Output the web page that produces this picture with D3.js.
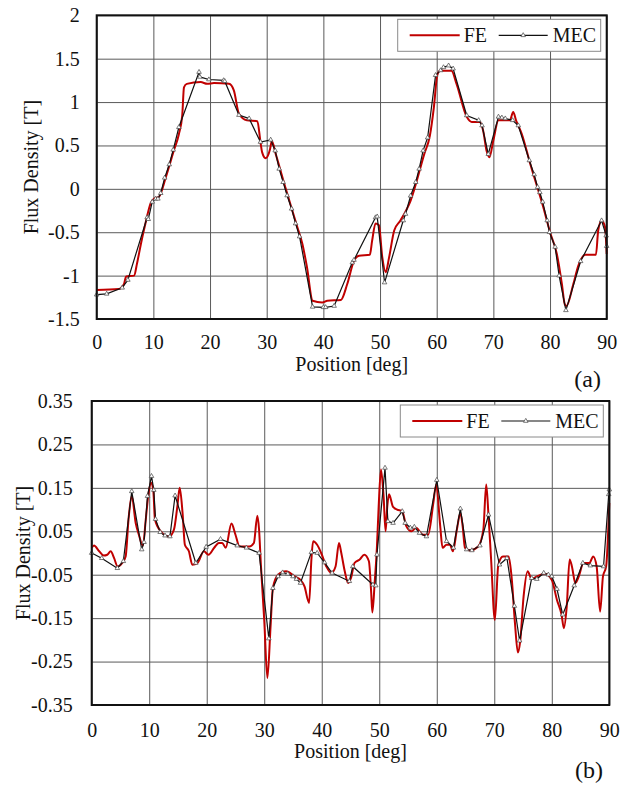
<!DOCTYPE html>
<html>
<head>
<meta charset="utf-8">
<script src="https://cdn.jsdelivr.net/npm/d3@7"></script>
<style>
  body { margin: 0; background: #fff; }
  svg { display: block; }
  svg text { font-family: "Times New Roman", Times, "Liberation Serif", "DejaVu Serif", serif; }
</style>
</head>
<body>
<svg id="chart"></svg>
<script>
var width = 630;
var height = 787;
var serif = "'Times New Roman', Times, 'Liberation Serif', 'DejaVu Serif', serif";

// (a) flux density over one pole pitch
var fePosA = [0, 3.9, 4.8, 5.2, 6.6, 7.1, 7.8, 8.6, 9.5, 10.1, 11, 12.2, 13.6, 14.5, 15.1, 15.4, 15.9, 18.35, 19.5, 20.7,
  23.35, 24.2, 25.1, 26.5, 28.35, 28.9, 29.2, 29.8, 30.6, 30.9, 31.6, 33.1, 35.4, 36.3, 37.1, 38.1, 39.8, 40.7, 43.1, 44.2,
  45.4, 46.3, 48.2, 48.6, 49.2, 49.8, 50.4, 51.0, 51.6, 52.5, 53.6, 55.4, 57.8, 58.8, 59.5, 60.1, 60.6, 62.6, 63.5, 65.3,
  66.2, 67.6, 68.2, 68.8, 69.3, 70, 70.9, 72.9, 73.5, 74, 75, 76.5, 78.8, 80, 81.2, 82.1, 82.6, 82.9, 84.1, 85,
  86.2, 88.1, 88.5, 89.1, 89.7, 90];
var feValA = [-1.165, -1.155, -1.10, -1.01, -1.0, -0.865, -0.635, -0.40, -0.17, -0.115, -0.09, 0.135, 0.44, 0.63, 0.85, 1.17, 1.21, 1.23, 1.21, 1.22,
  1.21, 1.135, 0.865, 0.79, 0.78, 0.54, 0.42, 0.354, 0.46, 0.55, 0.40, 0.058, -0.44, -0.635, -0.90, -1.29, -1.31, -1.29, -1.28, -1.10,
  -0.83, -0.77, -0.76, -0.60, -0.40, -0.42, -0.79, -0.96, -0.79, -0.48, -0.365, -0.135, 0.40, 0.615, 0.94, 1.31, 1.36, 1.36, 1.21, 0.83,
  0.77, 0.77, 0.67, 0.44, 0.365, 0.56, 0.79, 0.79, 0.885, 0.79, 0.635, 0.29, -0.21, -0.5, -0.75, -1.10, -1.33, -1.35, -1.10, -0.885,
  -0.76, -0.76, -0.48, -0.365, -0.44, -0.75];

var mecPosA = [0, 1.76, 4.5, 5.5, 8.9, 9.1, 9.8, 10.4, 10.8, 11.3, 12.0, 12.8, 13.5, 14.5, 18.06, 18.2, 19.8, 22.4, 22.6, 25.1,
  26.9, 28.9, 30.7, 31.5, 32.2, 32.9, 33.6, 34.4, 35.1, 35.8, 38.1, 40, 40.4, 41.9, 45.1, 45.4, 49.2, 49.5, 50.8, 54.1,
  54.5, 55.4, 56.3, 56.9, 57.6, 58.4, 59.8, 60.7, 61.2, 62.1, 62.9, 65.3, 67.4, 68.0, 69.1, 70.9, 71.5, 72.1, 73.4, 74.4,
  76.35, 77.2, 77.8, 78.2, 78.7, 79.5, 79.9, 80.9, 81.6, 82.8, 85.4, 89.1, 89.9, 90];
var mecValA = [-1.22, -1.21, -1.14, -1.05, -0.33, -0.35, -0.15, -0.115, -0.115, -0.05, 0.127, 0.28, 0.45, 0.71, 1.346, 1.29, 1.26, 1.25, 1.24, 0.85,
  0.81, 0.54, 0.565, 0.44, 0.23, 0.077, -0.077, -0.23, -0.40, -0.55, -1.36, -1.365, -1.365, -1.35, -0.85, -0.82, -0.33, -0.32, -1.08, -0.365,
  -0.29, -0.08, 0.077, 0.23, 0.44, 0.59, 1.31, 1.365, 1.40, 1.42, 1.385, 0.846, 0.79, 0.73, 0.40, 0.83, 0.82, 0.81, 0.79, 0.73,
  0.327, 0.165, 0.02, -0.04, -0.15, -0.365, -0.5, -0.67, -1.0, -1.40, -0.835, -0.365, -0.54, -0.66];

// (b) second component
var fePosB = [0, 0.4, 1.3, 2.1, 2.7, 3.3, 3.9, 4.5, 5.3, 5.9, 6.4, 6.96, 7.65, 8.2, 8.9, 9.4, 9.86, 10.3, 10.7, 11.0,
  12, 13.45, 14.3, 14.9, 15.3, 15.8, 16.2, 16.9, 17.5, 18.4, 19.5, 20.3, 21.3, 22.1, 22.7, 23.3, 24.3, 25.0, 25.7, 27.4,
  28.2, 28.8, 29.1, 29.4, 30.0, 30.55, 31.1, 31.5, 32.4, 33.8, 35.3, 36.3, 37, 37.8, 38.2, 38.5, 39.2, 39.9, 40.8, 41.65,
  42.4, 43.0, 43.4, 44.0, 44.6, 45.1, 45.7, 46.6, 47.4, 48.2, 48.6, 48.8, 49.2, 49.6, 49.9, 50.3, 50.75, 51.1, 51.4, 51.7,
  52.4, 53.1, 54.0, 54.7, 55.6, 56.4, 57.6, 58.5, 59.4, 59.9, 60.6, 61.0, 61.7, 62.3, 62.8, 63.5, 64.1, 64.5, 64.9, 65.8,
  67.2, 68.1, 68.6, 69.0, 69.45, 70.1, 70.7, 71.5, 72.5, 73.0, 73.6, 74.1, 74.5, 75.1, 75.8, 76.5, 77.4, 78.8, 80.0, 80.9,
  81.7, 82.1, 82.6, 83.1, 83.5, 84.1, 84.7, 85.5, 86.55, 87.2, 87.8, 88.4, 88.9, 89.45, 90];
var feValB = [0.012, 0.017, 0.004, -0.006, -0.004, 0.004, -0.012, -0.031, -0.023, -0.008, 0.077, 0.131, 0.069, 0.042, 0.017, 0.077, 0.135, 0.162, 0.146, 0.077,
  0.05, 0.038, 0.054, 0.108, 0.15, 0.092, 0.019, 0.004, -0.027, -0.023, 0.004, -0.004, 0.012, 0.023, 0.023, 0.012, 0.068, 0.042, 0.015, 0.015,
  0.023, 0.086, 0.054, -0.023, -0.154, -0.288, -0.169, -0.081, -0.05, -0.042, -0.054, -0.062, -0.077, -0.115, -0.015, 0.027, 0.019, 0.0, -0.031, -0.046,
  -0.031, 0.023, 0.0, -0.042, -0.069, -0.057, -0.023, -0.015, -0.004, -0.019, -0.092, -0.137, -0.069, 0.015, 0.108, 0.192, 0.131, 0.05, 0.108, 0.135,
  0.106, 0.1, 0.096, 0.062, 0.05, 0.058, 0.042, 0.042, 0.115, 0.158, 0.062, 0.012, 0.019, 0.019, 0.004, 0.054, 0.092, 0.062, 0.012, 0.006,
  0.015, 0.054, 0.158, 0.085, -0.015, -0.154, -0.027, -0.008, -0.008, -0.054, -0.162, -0.229, -0.204, -0.1, -0.042, -0.06, -0.054, -0.048, -0.062, -0.108,
  -0.142, -0.173, -0.123, -0.015, -0.031, -0.069, -0.054, -0.023, -0.023, -0.008, -0.031, -0.135, -0.054, -0.031, 0.115];

var mecPosB = [0, 1.74, 4.46, 5.5, 6.96, 8.7, 9.1, 9.7, 10.4, 10.8, 11.1, 11.9, 12.75, 13.6, 14.5, 18.1, 19.9, 22.4, 25.3, 26.9,
  29.1, 30.8, 31.5, 32.4, 33.2, 34.1, 35.0, 35.6, 36.3, 38.2, 39.2, 40.5, 41.8, 44.8, 45.4, 48.9, 49.4, 49.6, 51.0, 51.5,
  52.4, 54.0, 54.5, 55.4, 56.1, 57.0, 58.2, 60.0, 61.7, 62.9, 64.1, 65.2, 66.1, 67.5, 69.0, 70.9, 72.2, 73.5, 74.4, 76.5,
  77.4, 78.6, 79.4, 80.0, 80.9, 81.9, 83.9, 85.4, 86.7, 89.0, 89.9, 90];
var mecValB = [0.0, -0.012, -0.035, -0.019, 0.142, 0.008, 0.025, 0.131, 0.177, 0.145, 0.078, 0.048, 0.040, 0.038, 0.132, -0.023, 0.014, 0.032, 0.017, 0.012,
  0.0, -0.197, -0.081, -0.054, -0.045, -0.048, -0.054, -0.060, -0.069, 0.0015, 0.0, -0.022, -0.046, -0.065, -0.031, -0.073, -0.075, -0.004, 0.196, 0.073,
  0.069, 0.096, 0.069, 0.058, 0.060, 0.046, 0.038, 0.168, 0.027, 0.012, 0.102, 0.008, 0.006, 0.017, 0.088, -0.027, -0.012, -0.122, -0.202, -0.058,
  -0.060, -0.046, -0.050, -0.054, -0.083, -0.142, -0.075, -0.023, -0.029, -0.031, 0.135, 0.146];

var xTicks = [0, 10, 20, 30, 40, 50, 60, 70, 80, 90];
var yTicksA = [-1.5, -1, -0.5, 0, 0.5, 1, 1.5, 2];
var yLabelsA = ["-1.5", "-1", "-0.5", "0", "0.5", "1", "1.5", "2"];
var yTicksB = [-0.35, -0.25, -0.15, -0.05, 0.05, 0.15, 0.25, 0.35];
var yLabelsB = ["-0.35", "-0.25", "-0.15", "-0.05", "0.05", "0.15", "0.25", "0.35"];

var seriesNames = ["FE", "MEC"];
var feColor = "#c00000";

var svg = d3.select("#chart")
  .attr("width", width)
  .attr("height", height)
  .attr("font-family", serif);

function zip(xs, ys) {
  return xs.map(function(x, i) { return { x: x, y: ys[i] }; });
}

function addText(sel) {
  return sel.append("text")
    .attr("font-family", serif)
    .attr("font-size", 20)
    .attr("fill", "#111");
}

function drawPanel(opt) {
  var w = opt.right - opt.left;
  var h = opt.bottom - opt.top;

  var scaleX = d3.scaleLinear().domain([0, 90]).range([0, w]);
  var scaleY = d3.scaleLinear().domain(opt.yDomain).range([h, 0]);

  var g = svg.append("g").attr("transform", "translate(" + opt.left + "," + opt.top + ")");

  // grid + tick labels
  var xAxis = d3.axisBottom(scaleX)
    .tickValues(xTicks)
    .tickSize(-h)
    .tickPadding(opt.xPad)
    .tickFormat(function(d) { return d; });
  var yAxis = d3.axisLeft(scaleY)
    .tickValues(opt.yTicks)
    .tickSize(-w)
    .tickPadding(opt.yPad)
    .tickFormat(function(d, i) { return opt.yLabels[i]; });

  var gx = g.append("g").attr("transform", "translate(0," + h + ")").call(xAxis);
  var gy = g.append("g").call(yAxis);

  [gx, gy].forEach(function(a) {
    a.attr("font-family", serif).attr("font-size", 20);
    a.select(".domain").remove();
    a.selectAll("line").attr("stroke", "#5a5a5a").attr("stroke-width", 1);
    a.selectAll("text").attr("fill", "#111");
  });

  // FE: finely sampled, smooth
  var feLine = d3.line()
    .x(function(d) { return scaleX(d.x); })
    .y(function(d) { return scaleY(d.y); })
    .curve(d3.curveMonotoneX);

  g.append("path")
    .datum(zip(opt.fePos, opt.feVal))
    .attr("fill", "none")
    .attr("stroke", feColor)
    .attr("stroke-width", 2)
    .attr("d", feLine);

  // MEC: straight segments with triangle markers
  var mecData = zip(opt.mecPos, opt.mecVal);
  var mecLine = d3.line()
    .x(function(d) { return scaleX(d.x); })
    .y(function(d) { return scaleY(d.y); });

  g.append("path")
    .datum(mecData)
    .attr("fill", "none")
    .attr("stroke", "#111")
    .attr("stroke-width", 1.2)
    .attr("d", mecLine);

  var tri = d3.symbol().type(d3.symbolTriangle).size(9);
  g.selectAll(".mec")
    .data(mecData)
    .enter()
    .append("path")
    .attr("class", "mec")
    .attr("d", tri)
    .attr("transform", function(d) { return "translate(" + scaleX(d.x) + "," + scaleY(d.y) + ")"; })
    .attr("fill", "#fff")
    .attr("stroke", "#444")
    .attr("stroke-width", 0.7);

  // frame
  g.append("rect")
    .attr("width", w)
    .attr("height", h)
    .attr("fill", "none")
    .attr("stroke", "#111")
    .attr("stroke-width", 2);

  // legend
  var lg = g.append("g").attr("transform", "translate(" + (w - 209) + ",4)");
  lg.append("rect")
    .attr("width", 203)
    .attr("height", 32)
    .attr("fill", "#fff")
    .attr("stroke", "#8a8a8a")
    .attr("stroke-width", 1);
  lg.append("line")
    .attr("x1", 12).attr("x2", 62)
    .attr("y1", 16).attr("y2", 16)
    .attr("stroke", feColor)
    .attr("stroke-width", 2);
  addText(lg).attr("x", 66).attr("y", 23).text(seriesNames[0]);
  lg.append("line")
    .attr("x1", 101).attr("x2", 150)
    .attr("y1", 16).attr("y2", 16)
    .attr("stroke", "#111")
    .attr("stroke-width", 1.2);
  lg.append("path")
    .attr("d", tri)
    .attr("transform", "translate(125.5,16)")
    .attr("fill", "#fff")
    .attr("stroke", "#444")
    .attr("stroke-width", 0.7);
  addText(lg).attr("x", 155).attr("y", 23).text(seriesNames[1]);

  // axis titles
  addText(g)
    .attr("x", w / 2)
    .attr("y", h + opt.xTitleGap)
    .attr("text-anchor", "middle")
    .text("Position [deg]");

  addText(g)
    .attr("transform", "translate(" + opt.yTitleX + "," + (h / 2) + ") rotate(-90)")
    .attr("text-anchor", "middle")
    .text("Flux Density [T]");

  addText(svg)
    .attr("x", opt.tagX)
    .attr("y", opt.tagY)
    .attr("text-anchor", "end")
    .attr("font-size", 24)
    .text(opt.tag);
}

drawPanel({
  left: 96.7, right: 606.7, top: 15.3, bottom: 319,
  yDomain: [-1.5, 2], yTicks: yTicksA, yLabels: yLabelsA,
  xPad: 16, yPad: 17, xTitleGap: 52, yTitleX: -59,
  fePos: fePosA, feVal: feValA, mecPos: mecPosA, mecVal: mecValA,
  tag: "(a)", tagX: 601, tagY: 387
});

drawPanel({
  left: 91.7, right: 609.3, top: 401, bottom: 705,
  yDomain: [-0.35, 0.35], yTicks: yTicksB, yLabels: yLabelsB,
  xPad: 18, yPad: 19, xTitleGap: 53, yTitleX: -62,
  fePos: fePosB, feVal: feValB, mecPos: mecPosB, mecVal: mecValB,
  tag: "(b)", tagX: 603, tagY: 778
});
</script>
</body>
</html>
